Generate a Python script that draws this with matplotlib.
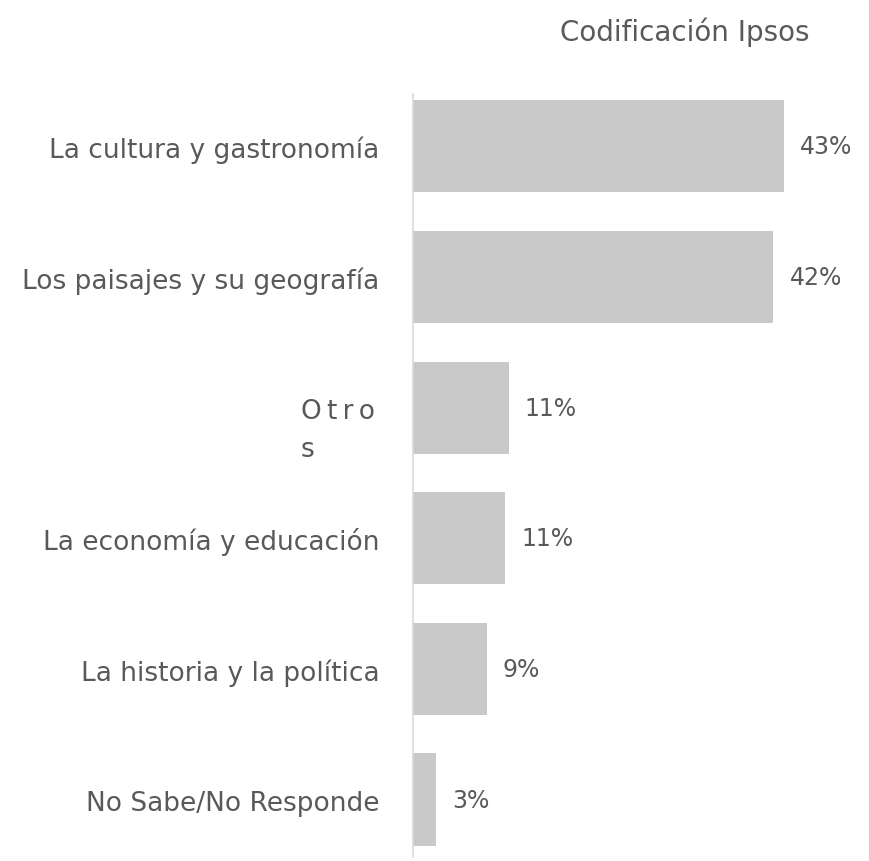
import matplotlib
matplotlib.use("Agg")
import matplotlib.pyplot as plt
from matplotlib import transforms

#### DATA ####
categories = ["La cultura y gastronomía", "Los paisajes y su geografía", "Otros",
              "La economía y educación", "La historia y la política", "No Sabe/No Responde"]
values = [43.0, 41.8, 11.1, 10.7, 8.6, 2.7]
value_labels = ["43%", "42%", "11%", "11%", "9%", "3%"]
title = "Codificación Ipsos"

#### STYLE ####
text_color = "#595959"
bar_color = "#c9c9c9"
line_color = "#d9d9d9"

fig = plt.figure(figsize=(8.69, 8.62), dpi=100)
ax = fig.add_axes([0.475, 0.0046, 0.5, 0.8852])

pos = list(range(len(categories)))
ax.barh(pos, values, height=0.705, color=bar_color)
ax.set_xlim(0, 50.35)
ax.set_ylim(5.44, -0.40)

for side in ["top", "right", "bottom"]:
    ax.spines[side].set_visible(False)
ax.spines["left"].set_color(line_color)
ax.spines["left"].set_linewidth(1.2)
ax.set_xticks([])

# tick labels (Otros drawn separately, it wraps in the original)
ax.set_yticks(pos)
ax.set_yticklabels(["" if c == "Otros" else c for c in categories],
                   fontsize=19, color=text_color)
ax.tick_params(axis="y", length=0, pad=24)

trans = transforms.blended_transform_factory(ax.transAxes, ax.transData)
i_otros = categories.index("Otros")
ax.text(-0.258, i_otros - 0.07, "O\u2009t\u2009r\u2009o\ns", transform=trans,
        ha="left", va="top", fontsize=19, color=text_color, linespacing=1.6)

for i, (v, lab) in enumerate(zip(values, value_labels)):
    ax.annotate(lab, xy=(v, i), xytext=(11.5, 0), textcoords="offset points",
                va="center", ha="left", fontsize=17, color=text_color)

fig.text(685 / 869, 1 - 32 / 862, title, ha="center", va="center",
         fontsize=20, color=text_color)

plt.savefig("out.png", dpi=100)
